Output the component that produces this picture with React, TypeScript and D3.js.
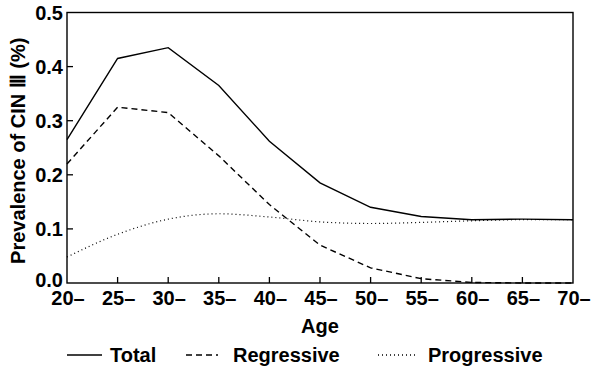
import React from 'react';
import * as d3 from 'd3';

const ages = [20, 25, 30, 35, 40, 45, 50, 55, 60, 65, 70];
const ageLabels = ['20–', '25–', '30–', '35–', '40–', '45–', '50–', '55–', '60–', '65–', '70–'];
const total = [0.265, 0.415, 0.435, 0.365, 0.262, 0.185, 0.14, 0.123, 0.117, 0.118, 0.117];
const regressive = [0.22, 0.325, 0.315, 0.235, 0.145, 0.07, 0.028, 0.008, 0.001, 0.0, 0.0];
const progressive = [0.048, 0.09, 0.118, 0.128, 0.122, 0.113, 0.11, 0.112, 0.115, 0.117, 0.117];
const yTicks = [0, 0.1, 0.2, 0.3, 0.4, 0.5];

const W = 591;
const H = 374;
const margin = { top: 12.5, right: 18, bottom: 91, left: 67 };
const font = 'Liberation Sans, Arial, sans-serif';

const App: React.FC = () => {
  const x = d3.scaleLinear().domain([20, 70]).range([margin.left, W - margin.right]);
  const y = d3.scaleLinear().domain([0, 0.5]).range([H - margin.bottom, margin.top]);

  const line = d3.line<number>()
    .x((_, i) => x(ages[i]))
    .y(d => y(d));

  const series = [
    { name: 'Total', values: total, dash: 'none', curve: d3.curveLinear },
    { name: 'Regressive', values: regressive, dash: '6,4', curve: d3.curveLinear },
    { name: 'Progressive', values: progressive, dash: '1,3', curve: d3.curveMonotoneX },
  ];

  // legend layout
  const legend = [
    { x1: 67, x2: 102, tx: 110, label: 'Total', dash: 'none' },
    { x1: 186, x2: 218, tx: 233, label: 'Regressive', dash: '6,4' },
    { x1: 378, x2: 416, tx: 428, label: 'Progressive', dash: '1,3' },
  ];

  const x0 = x(20);
  const x1 = x(70);
  const y0 = y(0);
  const y1 = y(0.5);

  return (
    <svg width={W} height={H} style={{ position: 'absolute', left: 0, top: 0, background: '#fff' }}>
      <rect x={x0} y={y1} width={x1 - x0} height={y0 - y1} fill="none" stroke="#000" strokeWidth={1.4} />

      {ages.map((a, i) => (
        <g key={a}>
          {i > 0 && i < ages.length - 1 && (
            <line x1={x(a)} x2={x(a)} y1={y0} y2={y0 - 6} stroke="#000" strokeWidth={1.3} />
          )}
          <text x={x(a) + 1} y={305} textAnchor="middle" fontFamily={font} fontWeight="bold" fontSize={20}>
            {ageLabels[i]}
          </text>
        </g>
      ))}

      {yTicks.map(t => (
        <g key={t}>
          {t > 0 && t < 0.5 && (
            <line x1={x0} x2={x0 + 6} y1={y(t)} y2={y(t)} stroke="#000" strokeWidth={1.3} />
          )}
          <text x={63} y={y(t) + (t === 0 ? 4 : 7)} textAnchor="end" fontFamily={font} fontWeight="bold" fontSize={20}>
            {t.toFixed(1)}
          </text>
        </g>
      ))}

      <text x={(x0 + x1) / 2} y={333} textAnchor="middle" fontFamily={font} fontWeight="bold" fontSize={20}>
        Age
      </text>

      <text
        transform={`translate(25,${(y0 + y1) / 2 + 3}) rotate(-90)`}
        textAnchor="middle"
        fontFamily={font}
        fontWeight="bold"
        fontSize={20}
      >
        Prevalence of CIN Ⅲ (%)
      </text>

      {series.map(s => (
        <path
          key={s.name}
          d={line.curve(s.curve)(s.values) ?? ''}
          fill="none"
          stroke="#000"
          strokeWidth={s.dash === '1,3' ? 1.2 : 1.4}
          strokeDasharray={s.dash}
        />
      ))}

      {legend.map(l => (
        <g key={l.label}>
          <line x1={l.x1} x2={l.x2} y1={355} y2={355} stroke="#000" strokeWidth={1.4} strokeDasharray={l.dash} />
          <text x={l.tx} y={362} fontFamily={font} fontWeight="bold" fontSize={20}>
            {l.label}
          </text>
        </g>
      ))}
    </svg>
  );
};

export default App;
